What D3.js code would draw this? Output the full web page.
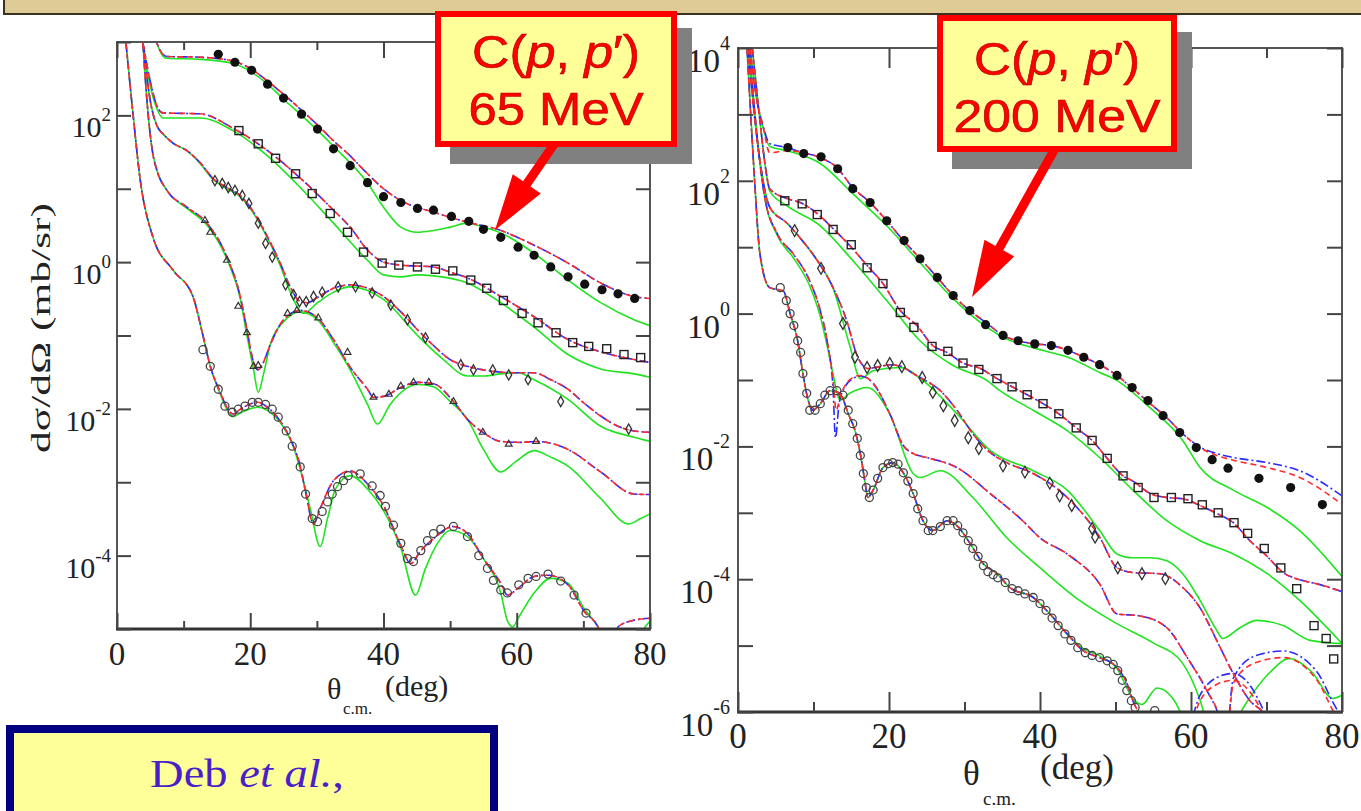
<!DOCTYPE html>
<html>
<head>
<meta charset="utf-8">
<script src="https://cdn.jsdelivr.net/npm/d3@7"></script>
<style>
  html, body { margin: 0; padding: 0; background: #fff; }
  svg { display: block; }
</style>
</head>
<body>
<svg id="fig" width="1361" height="811"></svg>
<script>
// ===== C(p,p') 65 MeV : [theta_cm (deg), dsigma/dOmega (mb/sr)] =====
const p65_red1 = [[5,1900],[6,960],[6.9,680],[7.5,635],[12.5,620],[17.4,550],[20,437],[22.6,293],[25,194],[27.5,122],[30.1,74],[32.5,45],[35,28],[37.6,16],[40,10],[42.6,6.9],[47.5,4.8],[52.6,3.5],[57.1,2.8],[62.6,1.7],[67.7,0.97],[72.6,0.52],[77.6,0.34],[80,0.32]];
const p65_green1 = [[5,1900],[6,960],[6.9,640],[7.5,600],[12.5,580],[17.4,510],[20,400],[22.6,266],[25,166],[27.5,104],[32.5,38],[37.6,12],[40,5.6],[42.6,3.0],[45.1,2.55],[47.5,2.7],[50,3.0],[52.6,3.4],[55,3.0],[57.6,2.5],[62.6,1.32],[67.7,0.57],[72.6,0.28],[77.6,0.164],[80,0.136]];
const p65_data1 = [[15.2,680],[17.7,530],[20.2,412],[22.6,266],[25.0,172],[27.7,104],[30.1,65],[32.5,35],[35.0,20.6],[37.6,12.1],[40.0,7.8],[42.6,6.5],[45.1,5.4],[47.5,5.1],[50.2,4.2],[52.8,3.6],[55.0,2.8],[57.6,2.18],[60.2,1.6],[62.6,1.24],[65.1,0.86],[67.7,0.63],[70.2,0.50],[72.8,0.42],[75.2,0.37],[77.7,0.32]];

const p65_red2 = [[3.9,960],[5.0,290],[6.0,134],[6.9,108],[12.5,105],[17.4,67],[22.6,33],[27.5,14],[32.5,5.1],[35,3.0],[37.6,1.46],[40,1.0],[42.6,0.91],[47.5,0.86],[50,0.73],[52.6,0.61],[57.6,0.34],[62.6,0.18],[67.7,0.088],[72.6,0.060],[77.6,0.047],[80,0.043]];
const p65_green2 = [[3.9,960],[5,250],[6,122],[6.9,92],[12.5,92],[17.4,62],[22.6,28],[27.5,10.4],[32.5,3.4],[37.6,1.06],[40,0.67],[42.6,0.63],[45.1,0.67],[47.5,0.65],[52.6,0.52],[57.6,0.28],[62.6,0.13],[67.7,0.055],[72.6,0.035],[77.6,0.030],[80,0.027]];
const p65_data2 = [[18.3,62],[21.2,41],[23.8,26],[26.8,16],[29.3,8.6],[32,4.6],[34.6,2.55],[37,1.37],[39.8,0.97],[42.3,0.91],[45.1,0.86],[47.8,0.80],[50.4,0.76],[53.1,0.57],[55.5,0.44],[58,0.30],[60.8,0.20],[63.2,0.149],[65.9,0.109],[68.4,0.080],[70.8,0.071],[73.5,0.066],[76.1,0.055],[78.6,0.050]];

const p65_red3 = [[3.9,960],[5,157],[6,72],[6.9,56],[8.4,42],[10.5,33],[12.5,22.6],[14.4,13.8],[16.5,10.4],[18.5,8.1],[20.5,4.8],[22.6,2.2],[24.5,0.97],[26,0.46],[27.5,0.29],[28.6,0.28],[30.1,0.33],[32.5,0.44],[35,0.49],[37.6,0.44],[40,0.34],[42.6,0.21],[45.1,0.12],[47.5,0.073],[50,0.047],[52.6,0.038],[55,0.034],[60.2,0.031],[62.6,0.031],[65.1,0.025],[67.7,0.0185],[70,0.0122],[72.6,0.0080],[75.2,0.0058],[77.6,0.0050],[80,0.0048]];
const p65_green3 = [[3.9,960],[5,157],[6,72],[6.9,56],[8.4,42],[10.5,33],[12.5,22],[14.4,13.5],[16.5,10],[18.5,7.8],[20.5,4.6],[22.6,2.1],[24.5,0.9],[26,0.39],[28,0.20],[30.1,0.28],[32.5,0.39],[35,0.46],[40,0.31],[45.1,0.10],[49,0.047],[52.6,0.028],[55,0.028],[57.6,0.030],[60.2,0.031],[62.6,0.025],[67.7,0.0135],[72.6,0.0058],[77.6,0.0041],[80,0.0036]];
const p65_data3 = [[14.7,12.9],[15.8,11.8],[16.7,10.4],[17.7,9.5],[18.8,8.1],[19.8,6.3],[21.2,3.4],[22.3,1.8],[23.3,1.17],[25.3,0.49],[26.5,0.36],[27.4,0.29],[28.4,0.29],[29.5,0.34],[30.8,0.39],[33.2,0.46],[35.8,0.46],[38.3,0.38],[41.1,0.26],[43.6,0.164],[46.3,0.093],[51.6,0.040],[53.5,0.034],[56.4,0.034],[58.8,0.029],[61.7,0.025],[66.6,0.0126],[76.8,0.0053]];

const p65_red4 = [[3.9,960],[4.5,157],[5.3,33],[6,17.7],[7.5,9.5],[10.5,5.6],[13.5,3.4],[16.5,1.17],[18.5,0.34],[19.5,0.12],[20.5,0.043],[21.1,0.034],[21.8,0.040],[23,0.075],[25,0.164],[27.5,0.22],[30.1,0.174],[32.5,0.088],[35,0.037],[37.6,0.0185],[38.5,0.0144],[40,0.0148],[42.6,0.0196],[45.1,0.023],[47.5,0.022],[50.5,0.0126],[52.6,0.0072],[54.9,0.0048],[57.6,0.0036],[60.6,0.0035],[62.9,0.0036],[67.7,0.0028],[72.6,0.00138],[77.6,0.00069],[80,0.00068]];
const p65_green4 = [[3.9,960],[4.5,157],[5.3,33],[6,17.7],[7.5,9.5],[10.5,5.4],[13.5,3.2],[16.5,1.1],[18.5,0.32],[19.5,0.10],[20.5,0.034],[21.2,0.0168],[22,0.030],[23,0.075],[25,0.154],[27.5,0.21],[30.1,0.164],[32.5,0.080],[35,0.034],[37.6,0.0115],[39.1,0.0062],[41,0.0115],[45.1,0.0215],[47.5,0.020],[50,0.0126],[52.6,0.0072],[55,0.0028],[57.6,0.00138],[59.8,0.0019],[62.6,0.0027],[65.1,0.0022],[67.7,0.00166],[72.6,0.00060],[76.8,0.00027],[78.6,0.00032],[80,0.00037]];
const p65_data4 = [[13.2,3.7],[14,2.55],[16.5,1.06],[18.2,0.25],[19.5,0.109],[20.5,0.038],[21.2,0.039],[25.6,0.20],[27,0.22],[30.2,0.174],[34.6,0.059],[38.5,0.0144],[40.8,0.0158],[42.6,0.0204],[44.5,0.023],[46.8,0.023],[50.5,0.0126],[54.9,0.0048],[58.8,0.0033],[62.9,0.0036]];

const p65_red5 = [[1.35,960],[2.4,105],[3.5,12.9],[5.4,2.18],[8.4,0.78],[11.4,0.34],[12.9,0.10],[14,0.038],[15.5,0.0168],[16.5,0.0105],[17.4,0.0085],[18.5,0.0099],[21.1,0.0123],[22.6,0.0105],[25,0.0058],[26.5,0.0031],[27.5,0.00166],[28.3,0.00074],[29.5,0.00027],[30.5,0.00044],[32.5,0.00105],[35,0.00142],[37.6,0.00095],[40,0.00048],[42.6,0.000138],[44.1,7.8e-5],[45.6,1.17e-4],[47.5,1.7e-4],[50.4,2.5e-4],[52.6,2.0e-4],[55,9.1e-5],[57.6,4.2e-5],[58.6,2.9e-5],[60.2,3.6e-5],[62.6,5.2e-5],[64.7,5.4e-5],[67.7,4.0e-5],[70.1,1.75e-5],[72.2,1.07e-5],[72.9,7.6e-6],[74.2,4e-6],[75.2,1.07e-5],[77.6,1.32e-5],[80,1.4e-5]];
const p65_green5 = [[1.35,960],[2.4,105],[3.5,12.9],[5.4,2.18],[8.4,0.78],[11.4,0.34],[12.9,0.10],[14,0.038],[15.5,0.0160],[16.5,0.0098],[17.4,0.0078],[18.5,0.0088],[21.1,0.0105],[22.6,0.0095],[25,0.0056],[26.5,0.0030],[27.5,0.0015],[29,4.4e-4],[30.5,1.33e-4],[31.6,3.2e-4],[32.8,8.1e-4],[35,1.23e-3],[37.6,8.1e-4],[40,4.1e-4],[42.6,1.26e-4],[44.8,2.9e-5],[46.3,6.7e-5],[48.1,1.47e-4],[50,2.2e-4],[52.6,1.82e-4],[55,9.1e-5],[57.6,3.1e-5],[58.6,1.29e-5],[59.4,1.07e-5],[60.2,1.4e-5],[62.6,3.1e-5],[65.1,4.9e-5],[67.7,4.2e-5],[70.1,1.9e-5],[72.2,1.07e-5],[73.4,6.5e-6],[76.4,4.7e-6],[78.6,8.9e-6],[80,1.29e-5]];
const p65_data5 = [[12.9,0.064],[14,0.038],[15.2,0.0185],[16.2,0.0109],[17.3,0.0090],[18.2,0.0099],[19.2,0.0109],[20.3,0.0123],[21.2,0.0123],[22.3,0.0115],[23.3,0.0099],[24.2,0.0077],[25.4,0.0050],[26.3,0.0031],[27.5,0.00162],[28.3,0.00069],[29.3,3.2e-4],[30.1,2.9e-4],[30.8,4.0e-4],[31.6,5.4e-4],[32.3,6.9e-4],[33.1,8.7e-4],[34,1.05e-3],[34.7,1.23e-3],[36.5,1.3e-3],[38.3,8.9e-4],[39.5,6.6e-4],[40.3,4.7e-4],[41.5,2.6e-4],[42.6,1.47e-4],[43.6,9.1e-5],[44.5,8.3e-5],[45.6,1.17e-4],[46.6,1.6e-4],[47.5,2.0e-4],[48.6,2.3e-4],[50.5,2.5e-4],[52.6,1.82e-4],[54.3,1.0e-4],[55.6,6.7e-5],[56.5,4.6e-5],[57.6,3.4e-5],[58.6,3.1e-5],[60.3,4.0e-5],[61.7,4.9e-5],[62.9,5.2e-5],[64.7,5.6e-5],[66.6,4.5e-5],[68.6,2.9e-5],[70.4,1.65e-5]];

// ===== C(p,p') 200 MeV =====
const p200_red1 = [[1.6,9800],[2.5,1620],[3.3,680],[4.2,265],[6.5,283],[8.6,265],[10.9,224],[13.1,158],[15.2,79],[17.5,47],[19.7,25],[21.9,12.6],[24.1,6.8],[26.4,3.5],[28.5,1.87],[30.7,1.11],[33,0.71],[35.1,0.47],[37.1,0.39],[39.3,0.35],[41.5,0.33],[43.7,0.28],[45.8,0.22],[47.9,0.17],[50.2,0.117],[52.3,0.074],[54.6,0.044],[56.8,0.027],[58.9,0.0155],[61.2,0.0096],[63.4,0.0073],[65.6,0.0062],[70.1,0.0048],[74.4,0.0034],[80,0.00135]];
const p200_blue1 = [[1.6,9800],[2.5,1620],[3.3,680],[4.2,363],[6.5,316],[8.6,265],[10.9,224],[13.1,158],[15.2,79],[17.5,47],[19.7,25],[21.9,12.6],[24.1,6.8],[26.4,3.5],[28.5,1.87],[30.7,1.11],[33,0.71],[35.1,0.47],[37.1,0.39],[39.3,0.35],[41.5,0.33],[43.7,0.28],[45.8,0.22],[47.9,0.17],[50.2,0.117],[52.3,0.074],[54.6,0.044],[56.8,0.027],[58.9,0.0155],[61.2,0.0098],[63.4,0.0078],[65.6,0.0068],[70.1,0.0057],[74.4,0.0043],[80,0.0018]];
const p200_green1 = [[1.6,9800],[2.5,1620],[3.3,650],[4.2,330],[6.5,283],[10.9,182],[15.2,64],[19.7,21],[24.1,5.9],[28.5,1.68],[33,0.62],[35.1,0.44],[39.3,0.30],[43.7,0.22],[47.9,0.13],[50.2,0.098],[54.6,0.038],[58.9,0.0123],[61.2,0.0048],[65.6,0.0022],[70.1,0.0012],[74.4,5.4e-4],[80,1.1e-4]];
const p200_data1 = [[6.6,316],[8.7,257],[11,230],[13.2,152],[15.2,76],[17.5,47],[19.7,25],[22,12.6],[24.1,6.7],[26.4,3.5],[28.5,1.87],[30.7,1.11],[32.8,0.68],[35.1,0.47],[37.1,0.39],[39.3,0.35],[41.5,0.33],[43.7,0.28],[45.8,0.22],[47.9,0.17],[50.2,0.117],[52.2,0.077],[54.3,0.049],[56.3,0.029],[58.5,0.0162],[60.7,0.0096],[62.8,0.0063],[64.9,0.0047],[69,0.0033],[73.2,0.0024],[77.4,0.00133]];

const p200_red2 = [[1.9,9800],[2.9,810],[3.7,142],[4.2,76],[6.5,54],[8.6,45],[10.5,32],[12.6,19],[14.8,10.6],[17.1,5.3],[19.2,2.83],[21.5,1.11],[23.7,0.66],[25.8,0.33],[27.7,0.26],[29.8,0.18],[32.1,0.149],[34.3,0.105],[36.3,0.079],[38.3,0.060],[40.4,0.044],[42.5,0.031],[44.8,0.019],[46.9,0.0123],[48.9,0.0066],[51,0.0036],[52.3,0.0030],[54.6,0.00195],[56.8,0.0017],[58.9,0.00163],[61.2,0.00129],[63.4,9.8e-4],[65.6,7.1e-4],[67.8,3.8e-4],[70.1,2.2e-4],[72.2,1.26e-4],[74.4,9.8e-5],[76.7,8.5e-5],[80,6.5e-5]];
const p200_green2 = [[1.9,9800],[2.9,810],[3.7,142],[4.2,70],[6.5,42],[10.9,21],[15.2,6.3],[19.7,1.57],[24.1,0.39],[28.5,0.165],[33,0.098],[34.7,0.069],[39.1,0.035],[43.6,0.0173],[47.9,0.0068],[52.3,0.0022],[56.8,7.6e-4],[61.2,3.8e-4],[65.6,2.4e-4],[70.1,1.21e-4],[74.4,4.8e-5],[78.8,1.5e-5],[80,1.07e-5]];
const p200_data2 = [[6.2,50],[8.5,45],[10.5,31],[12.6,18.5],[15,10.9],[17.1,4.9],[19.2,2.83],[21.5,1.04],[23.3,0.62],[25.7,0.32],[27.8,0.27],[29.8,0.18],[31.9,0.144],[34.3,0.105],[36.3,0.079],[38.3,0.060],[40.4,0.044],[42.5,0.031],[44.8,0.019],[46.9,0.0123],[48.9,0.0066],[51,0.0036],[53,0.0024],[55.1,0.0017],[57.4,0.0017],[59.6,0.00163],[61.5,0.00132],[63.6,0.0010],[65.7,7.1e-4],[67.5,4.9e-4],[69.7,2.9e-4],[71.9,1.48e-4],[74,7.2e-5],[76.3,2.0e-5],[77.9,1.28e-5],[78.9,6.3e-6]];

const p200_red3 = [[1.3,9800],[2.9,200],[4.2,40],[6.5,23],[8.2,13.9],[10.5,6.3],[12.6,2.46],[14.4,0.78],[15.8,0.23],[17.2,0.149],[18.8,0.159],[20.1,0.17],[21.7,0.159],[23.2,0.125],[24.4,0.105],[26.8,0.069],[29,0.035],[31.1,0.0155],[33.4,0.0081],[35.6,0.0057],[39.1,0.0039],[43.6,0.0017],[47.9,4.3e-4],[50.2,1.49e-4],[52.3,1.26e-4],[55.9,1.21e-4],[58.9,7.5e-5],[61.2,3.7e-5],[63.4,1.2e-5],[65.6,3.8e-6],[67.8,1.48e-6],[69.5,1e-6],[70.5,7e-7]];
const p200_green3 = [[1.3,9800],[2.9,200],[4.2,40],[6.5,23],[8.2,13.9],[10.5,6.3],[12.6,2.4],[14.8,0.33],[16.2,0.105],[17.9,0.138],[21.5,0.154],[24.5,0.098],[29,0.031],[33.4,0.0087],[39.1,0.0043],[43.6,0.0022],[47.9,5.4e-4],[50.2,2.4e-4],[52.3,2.1e-4],[54.6,2.1e-4],[56.8,1.9e-4],[58.9,1.21e-4],[61.2,4.8e-5],[63.4,1.7e-5],[64.2,1.28e-5],[66.5,1.86e-5],[68.7,2.4e-5],[72.2,2.0e-5],[75.8,1.2e-5],[80,1.07e-5]];
const p200_data3 = [[7.5,17.8],[11,4.8],[13.9,0.71],[15.5,0.22],[17.1,0.154],[18.5,0.165],[20.1,0.177],[21.7,0.159],[24.4,0.109],[25.8,0.065],[27.2,0.041],[28.7,0.0245],[30.5,0.0135],[31.9,0.0093],[35.1,0.0051],[38,0.0041],[41.3,0.0028],[42.6,0.0018],[44.2,0.00129],[46.9,5.8e-4],[47.3,4.3e-4],[50.3,1.49e-4],[53.5,1.21e-4],[56.6,1.02e-4]];

const p200_red4 = [[1.5,9800],[2.7,300],[3.5,60],[5.2,16],[7.3,8],[9.5,3.1],[10.9,1.11],[11.8,0.39],[12.6,0.098],[13.0,0.035],[13.6,0.06],[14.2,0.083],[15.2,0.109],[16.2,0.117],[17.9,0.089],[20.1,0.031],[21.9,0.0103],[23.2,0.0078],[25,0.0068],[29,0.0048],[33.4,0.00195],[37.7,7.6e-4],[40,4.2e-4],[43.6,2.4e-4],[47.9,8.5e-5],[50.2,3.0e-5],[53.2,2.8e-5],[56.8,1.86e-5],[59.5,6.6e-6],[62.1,2.1e-6],[63.8,8e-7],[64.6,3e-7],[65.6,2.7e-6],[68.5,5.5e-6],[72.2,6.6e-6],[76.7,3.0e-6],[78.8,1.05e-6],[80,6e-7]];
const p200_blue4 = [[1.5,9800],[2.7,300],[3.5,60],[5.2,16],[7.3,8],[9.5,3.1],[10.9,1.11],[11.8,0.39],[12.6,0.07],[12.9,0.0135],[13.4,0.045],[14.2,0.08],[15.2,0.105],[16.2,0.115],[17.9,0.089],[20.1,0.031],[21.9,0.0103],[23.2,0.0078],[25,0.0068],[29,0.0048],[33.4,0.00195],[37.7,7.6e-4],[40,4.2e-4],[43.6,2.4e-4],[47.9,8.5e-5],[50.2,3.0e-5],[53.2,2.8e-5],[56.8,1.86e-5],[59.5,6.6e-6],[62.1,2.1e-6],[63.8,8e-7],[64.6,3.5e-7],[65.6,3.2e-6],[68.5,7e-6],[72.2,8.3e-6],[76.7,4e-6],[78.8,1.4e-6],[80,8e-7]];
const p200_green4 = [[1.5,9800],[2.7,300],[3.5,60],[5.2,15],[7.3,7],[9.5,2.6],[10.9,0.9],[11.8,0.33],[12.6,0.12],[13.5,0.05],[14.8,0.063],[17.1,0.077],[20.1,0.031],[23.2,0.0039],[24.1,0.0034],[26.8,0.0043],[31.1,0.0017],[35.6,4.2e-4],[40,1.49e-4],[45,5e-5],[50,2.2e-5],[55,1.1e-5],[58.9,5.4e-6],[61.2,1.5e-6],[62.5,5e-7],[64,3e-7],[67,1.2e-6],[70.5,4e-6],[73,6.4e-6],[76,4e-6],[78.8,1.6e-6],[80,1.8e-6]];

const p200_red5 = [[1.2,9800],[2.2,100],[2.9,8],[4.2,2.46],[6,2.2],[6.9,1],[7.9,0.39],[8.6,0.125],[9.3,0.049],[9.9,0.035],[10.9,0.044],[12.2,0.069],[13.5,0.063],[14.6,0.031],[15.5,0.0173],[16.2,0.0078],[16.8,0.0030],[17.2,0.0017],[17.9,0.0022],[19.2,0.0048],[20.5,0.0057],[21.9,0.0040],[23.2,0.00195],[24.5,7.6e-4],[25.8,5.4e-4],[27.7,7.6e-4],[29,6.4e-4],[30.7,3.5e-4],[32.5,1.7e-4],[34.3,1.21e-4],[36,7.5e-5],[39.1,5.3e-5],[41.3,3.0e-5],[43.6,1.5e-5],[45.7,8.4e-6],[47.9,6.6e-6],[50.2,4.7e-6],[51.5,2.7e-6],[52.3,1.48e-6],[53.2,9e-7],[55,3e-7],[58.5,2e-7],[61.2,1.48e-6],[63.4,2.6e-6],[65.6,3.0e-6],[67.5,2.2e-6],[69.1,1.17e-6],[70.5,5e-7]];
const p200_blue5 = [[1.2,9800],[2.2,100],[2.9,8],[4.2,2.46],[6,2.2],[6.9,1],[7.9,0.39],[8.6,0.125],[9.3,0.049],[9.9,0.035],[10.9,0.044],[12.2,0.069],[13.5,0.063],[14.6,0.031],[15.5,0.0173],[16.2,0.0078],[16.8,0.0030],[17.2,0.0017],[17.9,0.0022],[19.2,0.0048],[20.5,0.0057],[21.9,0.0040],[23.2,0.00195],[24.5,7.6e-4],[25.8,5.4e-4],[27.7,7.6e-4],[29,6.4e-4],[30.7,3.5e-4],[32.5,1.7e-4],[34.3,1.21e-4],[36,7.5e-5],[39.1,5.3e-5],[41.3,3.0e-5],[43.6,1.5e-5],[45.7,8.4e-6],[47.9,6.6e-6],[50.2,4.7e-6],[51.5,2.7e-6],[52.3,1.48e-6],[53.2,9e-7],[55,3e-7],[58.5,2.5e-7],[61.2,1.8e-6],[63.4,3.3e-6],[65.6,3.8e-6],[67.5,2.8e-6],[69.1,1.4e-6],[70.5,6e-7]];
const p200_green5 = [[1.2,9800],[2.2,100],[2.9,8],[4.2,2.46],[6,2.2],[6.9,1],[7.9,0.39],[8.6,0.125],[9.3,0.049],[9.9,0.035],[10.9,0.044],[12.2,0.069],[13.5,0.063],[14.6,0.031],[15.5,0.0173],[16.2,0.0078],[16.8,0.0030],[17.2,0.0017],[17.9,0.0022],[19.2,0.0048],[20.5,0.0057],[21.9,0.0040],[23.2,0.00195],[24.5,7.6e-4],[25.8,5.4e-4],[27.7,7.6e-4],[29,6.4e-4],[30.7,3.5e-4],[32.5,1.7e-4],[34.3,1.21e-4],[36,7.5e-5],[39.1,5.3e-5],[41.3,3.0e-5],[43.6,1.5e-5],[45.7,9e-6],[47.9,7e-6],[50.2,4.5e-6],[52.3,1.6e-6],[53.5,1.3e-6],[55.5,2.3e-6],[57.6,1.6e-6],[58.5,1.05e-6],[59.5,5e-7]];
const p200_data5 = [[5.6,2.46],[6.4,1.57],[6.9,1.0],[7.4,0.66],[7.9,0.39],[8.3,0.26],[8.6,0.125],[9.1,0.063],[9.5,0.035],[10.2,0.035],[10.9,0.044],[11.5,0.059],[12.2,0.069],[13.1,0.069],[13.9,0.059],[14.6,0.035],[15.2,0.022],[15.8,0.0132],[16.2,0.0073],[16.6,0.0039],[17,0.0024],[17.4,0.0017],[17.9,0.0022],[18.5,0.0033],[19.2,0.0048],[19.9,0.0055],[20.5,0.0057],[21.2,0.0054],[21.9,0.0040],[22.5,0.0030],[23.2,0.00195],[23.8,0.00115],[24.5,7.6e-4],[25.2,5.4e-4],[25.8,5.4e-4],[26.8,6.2e-4],[27.7,7.6e-4],[28.5,7.6e-4],[29.1,6.4e-4],[29.8,5.0e-4],[30.5,3.8e-4],[31.1,2.9e-4],[31.8,2.2e-4],[32.5,1.6e-4],[33.1,1.3e-4],[33.8,1.17e-4],[34.4,1.05e-4],[35.4,8.9e-5],[36.3,7.2e-5],[37.1,6.7e-5],[38,6.0e-5],[39.1,5.3e-5],[40,4.3e-5],[40.8,3.4e-5],[41.6,2.6e-5],[42.4,2.0e-5],[43.3,1.5e-5],[44.1,1.2e-5],[45,9.3e-6],[46,7.8e-6],[46.9,7.1e-6],[47.9,6.6e-6],[48.9,5.9e-6],[49.7,5.2e-6],[50.3,4.2e-6],[50.9,3.0e-6],[51.5,2.1e-6],[52.1,1.48e-6],[52.6,1.17e-6],[55.2,1.05e-6]];

// axis ticks
const xTicksMajor = [0, 20, 40, 60, 80];
const xTicksMinor = [10, 30, 50, 70];
const yDecades65 = [1e-5, 1e-4, 1e-3, 1e-2, 1e-1, 1, 10, 1e2, 1e3];
const yLabels65 = [-4, -2, 0, 2];
const yDecades200 = [1e-6, 1e-5, 1e-4, 1e-3, 1e-2, 1e-1, 1, 10, 1e2, 1e3, 1e4];
const yLabels200 = [-6, -4, -2, 0, 2, 4];

const svg = d3.select("#fig");
const serif = "'Liberation Serif', 'DejaVu Serif', serif";
const sans = "'Liberation Sans', Arial, sans-serif";

svg.append("rect").attr("width", 1361).attr("height", 811).attr("fill", "#fff");

// title band at the top of the slide
svg.append("rect").attr("x", 4).attr("y", -2).attr("width", 1361).attr("height", 16)
  .attr("fill", "#decb95").attr("stroke", "#3b3220").attr("stroke-width", 2);

function panel(cfg) {
  const g = svg.append("g");
  const x = d3.scaleLinear().domain([0, 80]).range([cfg.x0, cfg.x1]);
  const y = d3.scaleLog().domain(cfg.ydom).range([cfg.y1, cfg.y0]);
  const clipId = "clip" + cfg.id;
  svg.append("clipPath").attr("id", clipId).append("rect")
    .attr("x", cfg.x0).attr("y", cfg.y0).attr("width", cfg.x1 - cfg.x0).attr("height", cfg.y1 - cfg.y0);

  const plot = g.append("g").attr("clip-path", `url(#${clipId})`);
  const line = d3.line().x(d => x(d[0])).y(d => y(d[1])).curve(d3.curveMonotoneX);

  const drawCurve = (data, color, dash) => plot.append("path").datum(data)
    .attr("d", line).attr("fill", "none").attr("stroke", color)
    .attr("stroke-width", 1.6).attr("stroke-dasharray", dash || null);

  cfg.sets.forEach(s => { if (s.green) drawCurve(s.green, "#1fe41f"); });
  cfg.sets.forEach(s => { drawCurve(s.blue || s.red, "#2a2aff", "9,3,2,3"); });
  cfg.sets.forEach(s => { drawCurve(s.red, "#ff2a2a", "6,4"); });

  const sym = (type, size) => d3.symbol().type(type).size(size)();
  cfg.sets.forEach(s => {
    if (!s.data) return;
    const m = plot.append("g");
    s.data.forEach(d => {
      const px = x(d[0]), py = y(d[1]);
      if (s.marker === "filled") {
        m.append("circle").attr("cx", px).attr("cy", py).attr("r", 4.6).attr("fill", "#111");
      } else if (s.marker === "square") {
        m.append("rect").attr("x", px - 4).attr("y", py - 4).attr("width", 8).attr("height", 8)
          .attr("fill", "none").attr("stroke", "#222").attr("stroke-width", 1.4);
      } else if (s.marker === "diamond") {
        m.append("path").attr("d", sym(d3.symbolDiamond, cfg.diamondSize)).attr("transform", `translate(${px},${py})`)
          .attr("fill", "none").attr("stroke", "#333").attr("stroke-width", 1.3);
      } else if (s.marker === "triangle") {
        m.append("path").attr("d", sym(d3.symbolTriangle, 20)).attr("transform", `translate(${px},${py})`)
          .attr("fill", "none").attr("stroke", "#333").attr("stroke-width", 1.2);
      } else {
        m.append("circle").attr("cx", px).attr("cy", py).attr("r", 4)
          .attr("fill", "none").attr("stroke", "#444").attr("stroke-width", 1.3);
      }
    });
  });

  // frame
  g.append("rect").attr("x", cfg.x0).attr("y", cfg.y0).attr("width", cfg.x1 - cfg.x0).attr("height", cfg.y1 - cfg.y0)
    .attr("fill", "none").attr("stroke", "#555").attr("stroke-width", 2);
  g.append("line").attr("x1", cfg.x0 - 1).attr("x2", cfg.x1 + 1).attr("y1", cfg.y1).attr("y2", cfg.y1)
    .attr("stroke", "#333").attr("stroke-width", 3);

  // axes with inward ticks
  const tickStyle = sel => sel.call(a => a.select(".domain").remove())
    .selectAll(".tick line").attr("stroke", "#444").attr("stroke-width", 2);
  g.append("g").attr("transform", `translate(0,${cfg.y1})`)
    .call(d3.axisBottom(x).tickValues(xTicksMajor).tickSize(-cfg.xMaj).tickFormat(""))
    .call(tickStyle);
  g.append("g").attr("transform", `translate(0,${cfg.y1})`)
    .call(d3.axisBottom(x).tickValues(xTicksMinor).tickSize(-cfg.xMin).tickFormat(""))
    .call(tickStyle);
  g.append("g").attr("transform", `translate(0,${cfg.y0})`)
    .call(d3.axisTop(x).tickValues(xTicksMajor).tickSize(-cfg.xMaj).tickFormat(""))
    .call(tickStyle);
  g.append("g").attr("transform", `translate(0,${cfg.y0})`)
    .call(d3.axisTop(x).tickValues(xTicksMinor).tickSize(-cfg.xMin).tickFormat(""))
    .call(tickStyle);
  g.append("g").attr("transform", `translate(${cfg.x0},0)`)
    .call(d3.axisLeft(y).tickValues(cfg.decades).tickSize(-cfg.yTick).tickFormat(""))
    .call(tickStyle);
  g.append("g").attr("transform", `translate(${cfg.x1},0)`)
    .call(d3.axisRight(y).tickValues(cfg.decades).tickSize(-cfg.yTick).tickFormat(""))
    .call(tickStyle);

  // x tick labels
  xTicksMajor.forEach(v => {
    g.append("text").attr("x", x(v)).attr("y", cfg.y1 + cfg.xLabDy).attr("text-anchor", "middle")
      .attr("font-family", serif).attr("font-size", cfg.xLabSize).attr("fill", "#222").text(v);
  });
  // y tick labels 10^n
  cfg.ylabels.forEach(n => {
    const ty = y(Math.pow(10, n));
    const t = g.append("text").attr("x", cfg.x0 - cfg.yLabGap).attr("y", ty + cfg.yBase)
      .attr("text-anchor", "end").attr("font-family", serif).attr("fill", "#222");
    t.append("tspan").attr("font-size", cfg.yLabSize).text("10");
    t.append("tspan").attr("font-size", cfg.ySupSize).attr("dy", -(cfg.yBase - cfg.ySup)).text(n);
  });

  // x axis title: theta_c.m. (deg)
  g.append("text").attr("x", cfg.thetaX).attr("y", cfg.thetaY)
    .attr("font-family", serif).attr("font-size", cfg.xTitleSize).attr("fill", "#222").text("θ");
  g.append("text").attr("x", cfg.cmX).attr("y", cfg.cmY)
    .attr("font-family", serif).attr("font-size", cfg.cmSize).attr("fill", "#222").text("c.m.");
  g.append("text").attr("x", cfg.degX).attr("y", cfg.degY)
    .attr("font-family", serif).attr("font-size", cfg.xTitleSize).attr("fill", "#222").text("(deg)");
  return g;
}

panel({
  id: "65", x0: 117, x1: 650, y0: 42, y1: 629, ydom: [1e-5, 1e3],
  decades: yDecades65, ylabels: yLabels65, diamondSize: 30,
  xMaj: 16, xMin: 8, yTick: 14,
  xLabDy: 36, xLabSize: 33, yLabSize: 30, ySupSize: 19, yBase: 22, ySup: 6, yLabGap: 6,
  thetaX: 327, thetaY: 699, cmX: 343, cmY: 714, cmSize: 17, degX: 385, degY: 696, xTitleSize: 30,
  sets: [
    { red: p65_red1, green: p65_green1, data: p65_data1, marker: "filled" },
    { red: p65_red2, green: p65_green2, data: p65_data2, marker: "square" },
    { red: p65_red3, green: p65_green3, data: p65_data3, marker: "diamond" },
    { red: p65_red4, green: p65_green4, data: p65_data4, marker: "triangle" },
    { red: p65_red5, green: p65_green5, data: p65_data5, marker: "circle" }
  ]
});

panel({
  id: "200", x0: 738, x1: 1342, y0: 48, y1: 712, ydom: [1e-6, 1e4],
  decades: yDecades200, ylabels: yLabels200, diamondSize: 40,
  xMaj: 20, xMin: 10, yTick: 15,
  xLabDy: 36, xLabSize: 35, yLabSize: 33, ySupSize: 20, yBase: 24, ySup: 2, yLabGap: 8,
  thetaX: 963, thetaY: 785, cmX: 983, cmY: 805, cmSize: 19, degX: 1040, degY: 779, xTitleSize: 35,
  sets: [
    { red: p200_red1, blue: p200_blue1, green: p200_green1, data: p200_data1, marker: "filled" },
    { red: p200_red2, green: p200_green2, data: p200_data2, marker: "square" },
    { red: p200_red3, green: p200_green3, data: p200_data3, marker: "diamond" },
    { red: p200_red4, blue: p200_blue4, green: p200_green4 },
    { red: p200_red5, blue: p200_blue5, green: p200_green5, data: p200_data5, marker: "circle" }
  ]
});

// y axis title of the 65 MeV panel
svg.append("text").attr("transform", "translate(50,328) rotate(-90)")
  .attr("text-anchor", "middle").attr("font-family", serif).attr("font-size", 28).attr("fill", "#222")
  .attr("textLength", 250).attr("lengthAdjust", "spacingAndGlyphs")
  .text("dσ/dΩ (mb/sr)");

// callout boxes with arrows
function callout(c) {
  const g = svg.append("g");
  g.append("rect").attr("x", c.x + 15).attr("y", c.y + 17).attr("width", c.w).attr("height", c.h).attr("fill", "#808080");
  const dx = c.tip[0] - c.base[0], dy = c.tip[1] - c.base[1];
  const L = Math.hypot(dx, dy), ux = dx / L, uy = dy / L, nx = -uy, ny = ux;
  const hl = 56, hw = 17, sw = 4.5;
  const bx = c.tip[0] - ux * hl, by = c.tip[1] - uy * hl;
  const pts = [
    [c.base[0] + nx * sw, c.base[1] + ny * sw], [bx + nx * sw, by + ny * sw], [bx + nx * hw, by + ny * hw],
    c.tip, [bx - nx * hw, by - ny * hw], [bx - nx * sw, by - ny * sw], [c.base[0] - nx * sw, c.base[1] - ny * sw]
  ];
  g.append("polygon").attr("points", pts.map(p => p.join(",")).join(" ")).attr("fill", "#ff0000");
  g.append("rect").attr("x", c.x + 3).attr("y", c.y + 3).attr("width", c.w - 6).attr("height", c.h - 6)
    .attr("fill", "#ffff99").attr("stroke", "#ff0000").attr("stroke-width", 6);
  const cx = c.x + c.w / 2;
  const t1 = g.append("text").attr("x", cx).attr("y", c.y + c.l1).attr("text-anchor", "middle")
    .attr("font-family", sans).attr("font-size", 46).attr("fill", "#ff0000")
    .attr("stroke", "#b00000").attr("stroke-width", 0.6)
    .attr("textLength", c.w1).attr("lengthAdjust", "spacingAndGlyphs");
  t1.append("tspan").text("C(");
  t1.append("tspan").attr("font-style", "italic").text("p");
  t1.append("tspan").text(", ");
  t1.append("tspan").attr("font-style", "italic").text("p");
  t1.append("tspan").text("′)");
  g.append("text").attr("x", cx).attr("y", c.y + c.l2).attr("text-anchor", "middle")
    .attr("font-family", sans).attr("font-size", 46).attr("fill", "#ff0000")
    .attr("stroke", "#b00000").attr("stroke-width", 0.6)
    .attr("textLength", c.w2).attr("lengthAdjust", "spacingAndGlyphs")
    .text(c.energy);
}
callout({ x: 435, y: 11, w: 242, h: 136, l1: 57, l2: 114, w1: 168, w2: 175, energy: "65 MeV", base: [557, 140], tip: [495, 230] });
callout({ x: 937, y: 15, w: 240, h: 137, l1: 60, l2: 117, w1: 166, w2: 207, energy: "200 MeV", base: [1057, 145], tip: [972, 297] });

// reference box
svg.append("rect").attr("x", 10).attr("y", 729).attr("width", 484).attr("height", 120)
  .attr("fill", "#ffff99").attr("stroke", "#000080").attr("stroke-width", 8);
const ref = svg.append("text").attr("x", 247).attr("y", 787).attr("text-anchor", "middle")
  .attr("font-family", serif).attr("font-size", 40).attr("fill", "#4b1fc6")
  .attr("textLength", 194).attr("lengthAdjust", "spacingAndGlyphs");
ref.append("tspan").text("Deb ");
ref.append("tspan").attr("font-style", "italic").text("et al.");
ref.append("tspan").text(",");
</script>
</body>
</html>
